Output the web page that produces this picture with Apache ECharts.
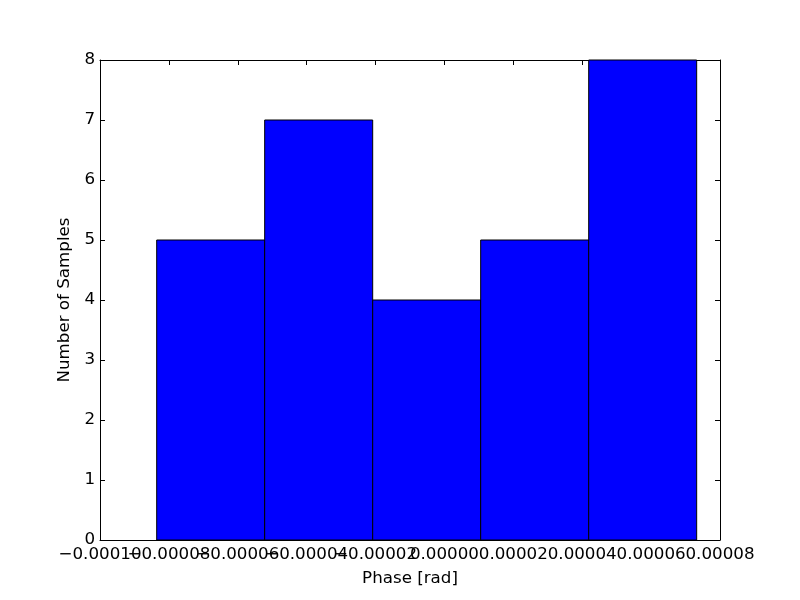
<!DOCTYPE html>
<html>
<head>
<meta charset="utf-8">
<script src="https://cdn.jsdelivr.net/npm/echarts@6/dist/echarts.min.js"></script>
<style>html,body{margin:0;padding:0;background:#fff}#c{width:800px;height:600px}</style>
</head>
<body>
<div id="c"></div>
<script>
// Histogram bin edges (rad) and counts
const binEdges = [-8.354e-5, -5.219e-5, -2.083e-5, 1.052e-5, 4.188e-5, 7.323e-5];
const counts = [5, 7, 4, 5, 8];
const xTicks = [-0.0001, -0.00008, -0.00006, -0.00004, -0.00002, 0, 0.00002, 0.00004, 0.00006, 0.00008];
const yTicks = [0, 1, 2, 3, 4, 5, 6, 7, 8];

const data = counts.map((c, i) => [binEdges[i], binEdges[i + 1], c]);
const font = 'DejaVu Sans';
const fs = 16.7;
const xMin = xTicks[0], xMax = xTicks[xTicks.length - 1];

function fmtX(v) {
  const r = Math.round(v * 1e5) / 1e5;
  return (r < 0 ? '\u2212' : '') + Math.abs(r).toFixed(5);
}

const chart = echarts.init(document.getElementById('c'));
const axisLine = { show: true, onZero: false, lineStyle: { color: '#000', width: 1 } };
const tick = { show: true, inside: true, length: 5, lineStyle: { color: '#000' } };
const labelBase = { color: '#000', fontFamily: font, fontSize: fs, margin: 6, hideOverlap: false };
chart.setOption({
  animation: false,
  grid: { left: 100, right: 80, top: 60, bottom: 60, containLabel: false },
  xAxis: [{
    type: 'value', position: 'bottom', min: xMin, max: xMax, interval: 0.00002,
    axisLine, axisTick: tick, splitLine: { show: false },
    axisLabel: Object.assign({ formatter: fmtX, showMinLabel: false, showMaxLabel: true }, labelBase),
    name: 'Phase [rad]', nameLocation: 'middle', nameGap: 30,
    nameTextStyle: { color: '#000', fontFamily: font, fontSize: fs }
  }, {
    type: 'value', position: 'top', min: xMin, max: xMax, interval: 0.00002,
    axisLine, axisTick: tick, axisLabel: { show: false }, splitLine: { show: false }
  }, {
    type: 'value', position: 'bottom', offset: 0, min: xMin, max: xMax, interval: 0.00002,
    axisLine: { show: false }, axisTick: { show: false }, splitLine: { show: false },
    axisLabel: Object.assign({ formatter: v => (Math.abs(v - xMin) < 1e-12 ? fmtX(v) : ''), showMinLabel: true, showMaxLabel: false }, labelBase)
  }],
  yAxis: [{
    type: 'value', min: yTicks[0], max: yTicks[yTicks.length - 1], interval: 1,
    axisLine, axisTick: tick, splitLine: { show: false },
    axisLabel: { color: '#000', fontFamily: font, fontSize: fs, margin: 5 },
    name: 'Number of Samples', nameLocation: 'middle', nameGap: 20, nameRotate: 90,
    nameTextStyle: { color: '#000', fontFamily: font, fontSize: fs }
  }, {
    type: 'value', position: 'right', min: 0, max: 8, interval: 1,
    axisLine, axisTick: tick, axisLabel: { show: false }, splitLine: { show: false }
  }],
  series: [{
    type: 'custom',
    xAxisIndex: 0, yAxisIndex: 0,
    data: data,
    encode: { x: [0, 1], y: 2 },
    renderItem: function (params, api) {
      const p0 = api.coord([api.value(0), api.value(2)]);
      const p1 = api.coord([api.value(1), 0]);
      return {
        type: 'rect',
        shape: { x: p0[0], y: p0[1], width: p1[0] - p0[0], height: p1[1] - p0[1] },
        style: { fill: '#0000ff', stroke: '#000', lineWidth: 1 }
      };
    }
  }]
});
</script>
</body>
</html>
